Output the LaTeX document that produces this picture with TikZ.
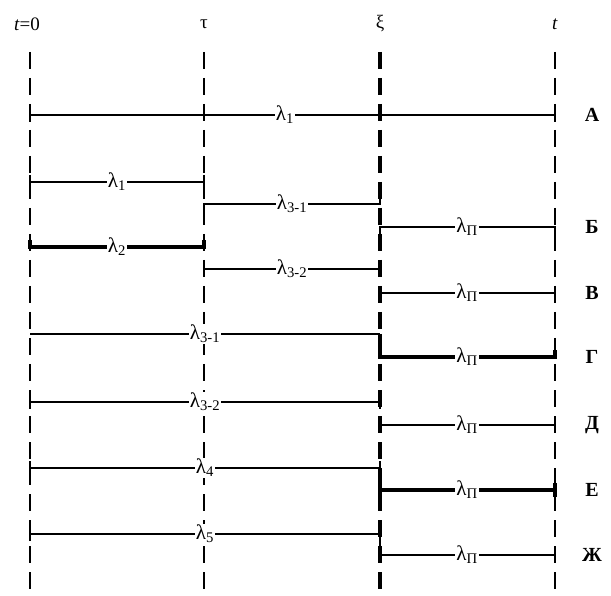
\documentclass[tikz,border=0pt]{standalone}
\usepackage{fontspec}
\setmainfont{Liberation Serif}
\begin{document}
\begin{tikzpicture}[x=1pt,y=-1pt,
  guide/.style={line width=2.6pt,dash pattern=on 17pt off 9pt},
  seg/.style={line width=2.2pt},
  thickseg/.style={line width=3.4pt},
  thinseg/.style={line width=1.2pt},
  lam/.style={fill=white,inner sep=1pt,font=\fontsize{21}{23}\selectfont},
  toplab/.style={font=\fontsize{19}{21}\selectfont},
  rowlab/.style={font=\fontsize{20}{22}\selectfont\bfseries}]
\useasboundingbox (0,0) rectangle (611,596);

% time axis marks
\def\xa{30}\def\xb{204}\def\xc{380}\def\xd{555}
\node[toplab] (t0) at (27,24) {\textit{t}=0};
\node[toplab] (tau) at (\xb,24) {τ};
\node[toplab] (xi) at (\xc,24) {ξ};
\node[toplab] (tt) at (\xd,24) {\textit{t}};

\coordinate (g0a) at (\xa,52); \coordinate (g0b) at (\xa,596);
\coordinate (g1a) at (\xb,52); \coordinate (g1b) at (\xb,596);
\coordinate (g2a) at (\xc,52); \coordinate (g2b) at (\xc,596);
\coordinate (g3a) at (\xd,52); \coordinate (g3b) at (\xd,596);
\draw[guide] (g0a) -- (g0b);
\draw[guide] (g1a) -- (g1b);
\draw[guide,line width=3.2pt] (g2a) -- (g2b);
\draw[guide] (g3a) -- (g3b);

% row A
\node[lam] (lA) at (285,115) {λ\textsubscript{1}};
\draw[seg] (\xa,122) -- (\xa,115) -- (lA) -- (\xd,115) -- (\xd,122);
\node[rowlab] (rA) at (592,115) {А};

% lambda_1 on [0,tau]
\node[lam] (l1) at (117,182) {λ\textsubscript{1}};
\draw[seg] (\xa,175) -- (\xa,189) (\xa,182) -- (l1) -- (\xb,182) (\xb,175) -- (\xb,189);

% lambda_{3-1} on [tau,xi]
\node[lam] (l31s) at (292,204) {λ\textsubscript{3-1}};
\draw[seg] (\xb,211) -- (\xb,204) -- (l31s) -- (\xc,204) -- (\xc,197);

% row Б
\node[lam] (lB) at (467,227) {λ\textsubscript{П}};
\draw[seg] (\xc,234) -- (\xc,227) -- (lB) -- (\xd,227) -- (\xd,234);
\node[rowlab] (rB) at (592,227) {Б};

% lambda_2 on [0,tau]
\node[lam] (l2) at (117,247) {λ\textsubscript{2}};
\draw[thickseg] (\xa,240) -- (\xa,247) -- (l2) -- (\xb,247) -- (\xb,240);

% lambda_{3-2} on [tau,xi]
\node[lam] (l32s) at (292,269) {λ\textsubscript{3-2}};
\draw[seg] (\xb,262) -- (\xb,269) -- (l32s) -- (\xc,269) -- (\xc,262);

% row В
\node[lam] (lV) at (467,293) {λ\textsubscript{П}};
\draw[seg] (\xc,286) -- (\xc,300) (\xc,293) -- (lV) -- (\xd,293) (\xd,286) -- (\xd,300);
\node[rowlab] (rV) at (592,293) {В};

% lambda_{3-1} on [0,xi], then row Г
\node[lam] (l31) at (205,334) {λ\textsubscript{3-1}};
\draw[thinseg] (\xa,334) -- (l31) -- (\xc,334);
\node[lam] (lG) at (467,357) {λ\textsubscript{П}};
\draw[thickseg] (\xc,334) -- (\xc,357) -- (lG) -- (\xd,357) -- (\xd,350);
\node[rowlab] (rG) at (592,357) {Г};

% lambda_{3-2} on [0,xi]
\node[lam] (l32) at (205,402) {λ\textsubscript{3-2}};
\draw[seg] (\xa,395) -- (\xa,409) (\xa,402) -- (l32);
\draw[thinseg] (l32) -- (\xc,402);
\draw[seg] (\xc,395) -- (\xc,409);

% row Д
\node[lam] (lD) at (467,425) {λ\textsubscript{П}};
\draw[seg] (\xc,432) -- (\xc,425) -- (lD) -- (\xd,425) -- (\xd,432);
\node[rowlab] (rD) at (592,425) {Д};

% lambda_4 on [0,xi]
\node[lam] (l4) at (205,468) {λ\textsubscript{4}};
\draw[seg] (\xa,461) -- (\xa,468) -- (90,468);
\draw[thinseg] (90,468) -- (l4) -- (\xc,468);
\draw[seg] (345,468) -- (\xc,468) -- (\xc,461);

% row Е
\node[lam] (lE) at (467,490) {λ\textsubscript{П}};
\draw[thickseg] (\xc,483) -- (\xc,497) (\xc,490) -- (lE) -- (\xd,490) (\xd,483) -- (\xd,497);
\node[rowlab] (rE) at (592,490) {Е};

% lambda_5 on [0,xi], then row Ж
\node[lam] (l5) at (205,534) {λ\textsubscript{5}};
\draw[seg] (\xa,541) -- (\xa,534) -- (l5) -- (\xc,534);
\node[lam] (lZ) at (467,555) {λ\textsubscript{П}};
\draw[seg] (\xc,534) -- (\xc,555) -- (lZ) -- (\xd,555) -- (\xd,548);
\node[rowlab] (rZ) at (592,555) {Ж};
\end{tikzpicture}
\end{document}
